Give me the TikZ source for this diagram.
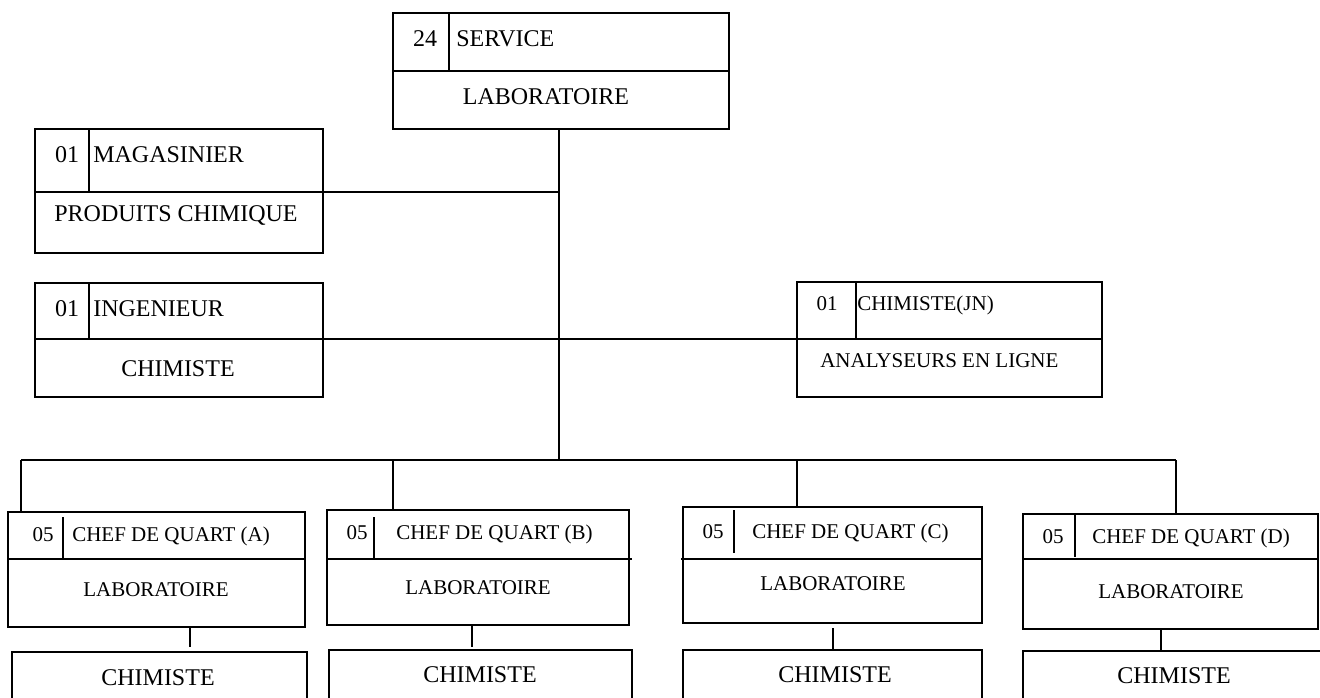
\documentclass[tikz,border=0pt]{standalone}
\usepackage{fontspec}
\setmainfont{Liberation Serif}
\usetikzlibrary{fit}
\begin{document}
\begin{tikzpicture}[x=0.75pt,y=-0.75pt,
  cell/.style={draw, line width=1.1pt, inner sep=0pt, outer sep=0pt},
  big/.style={inner sep=0pt, anchor=base, font=\fontsize{18}{20}\selectfont},
  bigl/.style={big, anchor=base west},
  sm/.style={inner sep=0pt, anchor=base, font=\fontsize{15.75}{18}\selectfont},
  sml/.style={sm, anchor=base west},
  wire/.style={line width=1.1pt}]
\useasboundingbox (0,0) rectangle (1320,697);
\clip (0,0) rectangle (1320,697);

% ---- top box
\node[cell, fit={(393,13) (729,71)}] (topH) {};
\node[cell, fit={(393,13) (449,71)}] (topN) {};
\node[cell, fit={(393,71) (729,129)}] (topB) {};
\node[big] (t24) at (425,46) {24};
\node[bigl] (tserv) at (456,46) {SERVICE};
\node[big] (tlab) at (546,104) {LABORATOIRE};

% ---- magasinier
\node[cell, fit={(35,129) (323,192)}] (magH) {};
\node[cell, fit={(35,129) (89,192)}] (magN) {};
\node[cell, fit={(35,192) (323,253)}] (magB) {};
\node[big] (tm1) at (67,162) {01};
\node[bigl] (tm2) at (93,162) {MAGASINIER};
\node[big] (tm3) at (176,221) {PRODUITS CHIMIQUE};

% ---- ingenieur
\node[cell, fit={(35,283) (323,339)}] (ingH) {};
\node[cell, fit={(35,283) (89,339)}] (ingN) {};
\node[cell, fit={(35,339) (323,397)}] (ingB) {};
\node[big] (ti1) at (67,316) {01};
\node[bigl] (ti2) at (93,316) {INGENIEUR};
\node[big] (ti3) at (178,376) {CHIMISTE};

% ---- chimiste JN
\node[cell, fit={(797,282) (1102,339)}] (jnH) {};
\node[cell, fit={(797,282) (856,339)}] (jnN) {};
\node[cell, fit={(797,339) (1102,397)}] (jnB) {};
\node[sm] (tj1) at (827,310) {01};
\node[sml] (tj2) at (857,310) {CHIMISTE(JN)};
\node[sml] (tj3) at (820,367) {ANALYSEURS EN LIGNE};

% ---- bus coordinates
\coordinate (busM) at (559,460);
\coordinate (busL) at (21,460);
\coordinate (busB) at (393,460);
\coordinate (busC) at (797,460);
\coordinate (busR) at (1176,460);

% ---- shift A
\node[cell, fit={(8,512) (305,559)}] (aH) {};
\node[cell, fit={(8,559) (305,627)}] (aB) {};
\draw[wire] (63,517) -- (63,559);
\node[cell, fit={(12,652) (307,710)}] (aC) {};
\node[sm] (ta1) at (43,541) {05};
\node[sml] (ta2) at (72,541) {CHEF DE QUART (A)};
\node[sm] (ta3) at (156,596) {LABORATOIRE};
\node[big] (ta4) at (158,685) {CHIMISTE};
\coordinate (aX) at (190,0);

% ---- shift B
\node[cell, fit={(327,510) (629,559)}] (bH) {};
\node[cell, fit={(327,559) (629,625)}] (bB) {};
\draw[wire] (374,517) -- (374,559);
\draw[wire] (629,559) -- (632,559);
\node[cell, fit={(329,650) (632,710)}] (bC) {};
\node[sm] (tb1) at (357,539) {05};
\node[sml] (tb2) at (396,539) {CHEF DE QUART (B)};
\node[sm] (tb3) at (478,594) {LABORATOIRE};
\node[big] (tb4) at (480,682) {CHIMISTE};
\coordinate (bX) at (472,0);

% ---- shift C
\node[cell, fit={(683,507) (982,559)}] (cH) {};
\node[cell, fit={(683,559) (982,623)}] (cB) {};
\draw[wire] (734,510) -- (734,553);
\draw[wire] (681,559) -- (683,559);
\node[cell, fit={(683,650) (982,710)}] (cC) {};
\node[sm] (tc1) at (713,538) {05};
\node[sml] (tc2) at (752,538) {CHEF DE QUART (C)};
\node[sm] (tc3) at (833,590) {LABORATOIRE};
\node[big] (tc4) at (835,682) {CHIMISTE};
\coordinate (cX) at (833,0);

% ---- shift D
\node[cell, fit={(1023,514) (1318,559)}] (dH) {};
\node[cell, fit={(1023,559) (1318,629)}] (dB) {};
\draw[wire] (1075,514) -- (1075,557);
\node[cell, fit={(1023,651) (1340,710)}] (dC) {};
\node[sm] (td1) at (1053,543) {05};
\node[sml] (td2) at (1092,543) {CHEF DE QUART (D)};
\node[sm] (td3) at (1171,598) {LABORATOIRE};
\node[big] (td4) at (1174,683) {CHIMISTE};
\coordinate (dX) at (1161,0);

% ---- connectors
\draw[wire] (topB.south -| busM) -- (busM);
\draw[wire] (magH.south east) -- (magH.south east -| busM);
\draw[wire] (ingH.south east) -- (jnH.south west);
\draw[wire] (busL) -- (busR);
\draw[wire] (busL) -- (busL |- aH.north);
\draw[wire] (busB) -- (busB |- bH.north);
\draw[wire] (busC) -- (busC |- cH.north);
\draw[wire] (busR) -- (busR |- dH.north);
\draw[wire] (aB.south -| aX) -- ++(0,20);
\draw[wire] (bB.south -| bX) -- ++(0,22);
\draw[wire] ([yshift=-3.75pt]cB.south -| cX) -- (cC.north -| cX);
\draw[wire] (dB.south -| dX) -- (dC.north -| dX);
\end{tikzpicture}
\end{document}
